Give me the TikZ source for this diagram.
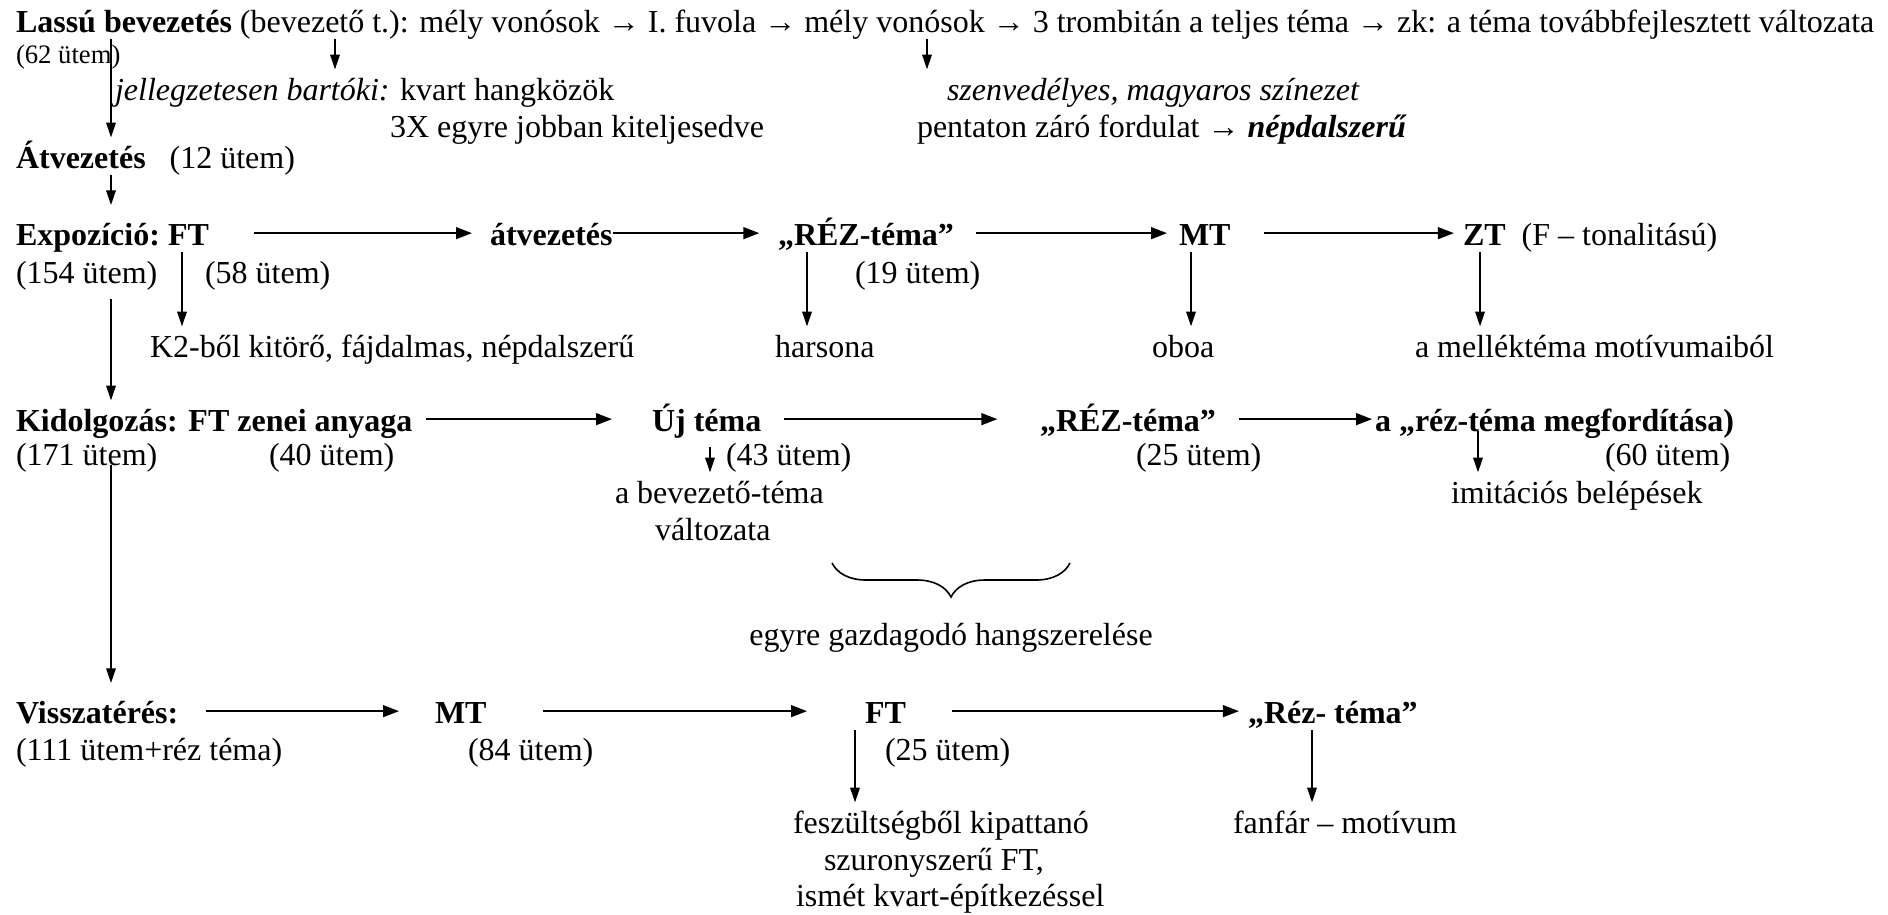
\documentclass[tikz,border=0pt]{standalone}
\usepackage{fontspec}
\setmainfont{Liberation Serif}
\usetikzlibrary{arrows.meta,decorations.pathreplacing}

\begin{document}
\begin{tikzpicture}[x=0.375pt,y=-0.375pt,
    txt/.style={anchor=base west,inner sep=0pt,outer sep=0pt,text height=11.5pt,text depth=2.6pt,font=\fontsize{12}{14}\selectfont},
    harr/.style={-{Triangle[length=6pt,width=4.4pt]},line width=0.8pt},
    varr/.style={-{Triangle[length=5.5pt,width=3.6pt]},line width=0.5pt}]
      \useasboundingbox (0,0) rectangle (1888,914);

      % columns of the down arrows
      \coordinate (spine) at (111,0);
      \coordinate (xbart) at (335,0);
      \coordinate (xszenv) at (927,0);
      \coordinate (xft) at (182,0);
      \coordinate (xrez) at (807,0);
      \coordinate (xmt) at (1191,0);
      \coordinate (xzt) at (1480,0);
      \coordinate (xuj) at (710,0);
      \coordinate (ximi) at (1478,0);
      \coordinate (xft2) at (855,0);
      \coordinate (xrez3) at (1312,0);

      % bevezetes
      \node[txt] (lead) at (16,32) {\textbf{Lassú bevezetés} (bevezető t.): mély vonósok → I. fuvola → mély vonósok → 3 trombitán a teljes téma → zk: a téma továbbfejlesztett változata};
      \node[txt,font=\fontsize{10}{12}\selectfont] (ut62) at (16,63) {(62 ütem)};
      \node[txt] (bartok) at (115,100) {\textit{jellegzetesen bartóki:} kvart hangközök};
      \node[txt] (szenv) at (947,100) {\textit{szenvedélyes, magyaros színezet}};
      \node[txt] (kvart3) at (390,137) {3X egyre jobban kiteljesedve};
      \node[txt] (penta) at (917,137) {pentaton záró fordulat → \textbf{\textit{népdalszerű}}};
      \node[txt] (atv) at (16,168) {\textbf{Átvezetés}\hspace{9pt}(12 ütem)};

      % expozicio
      \node[txt] (expo) at (16,245) {\textbf{Expozíció:}};
      \node[txt] (expoft) at (168,245) {\textbf{FT}};
      \node[txt] (atv2) at (490,245) {\textbf{átvezetés}};
      \node[txt] (rez1) at (778,245) {\textbf{„RÉZ-téma”}};
      \node[txt] (mt1) at (1179,245) {\textbf{MT}};
      \node[txt] (zt) at (1463,245) {\textbf{ZT}~~(F – tonalitású)};
      \node[txt] (ut154) at (16,283) {(154 ütem)};
      \node[txt] (ut58) at (205,283) {(58 ütem)};
      \node[txt] (ut19) at (855,283) {(19 ütem)};
      \node[txt] (k2) at (150,357) {K2-ből kitörő, fájdalmas, népdalszerű};
      \node[txt] (harsona) at (775,357) {harsona};
      \node[txt] (oboa) at (1152,357) {oboa};
      \node[txt] (mellek) at (1415,357) {a melléktéma motívumaiból};

      % kidolgozas
      \node[txt] (kid) at (16,431) {\textbf{Kidolgozás: FT zenei anyaga}};
      \node[txt] (uj) at (652,431) {\textbf{Új téma}};
      \node[txt] (rez2) at (1040,431) {\textbf{„RÉZ-téma”}};
      \node[txt] (megf) at (1375,431) {\textbf{a „réz-téma megfordítása)}};
      \node[txt] (ut171) at (16,465) {(171 ütem)};
      \node[txt] (ut40) at (269,465) {(40 ütem)};
      \node[txt] (ut43) at (726,465) {(43 ütem)};
      \node[txt] (ut25a) at (1136,465) {(25 ütem)};
      \node[txt] (ut60) at (1605,465) {(60 ütem)};
      \node[txt] (bev) at (615,503) {a bevezető-téma};
      \node[txt] (valt) at (655,540) {változata};
      \node[txt] (imi) at (1451,503) {imitációs belépések};
      \draw[line width=0.6pt,decorate,decoration={brace,amplitude=12.75pt}] (1070,563) -- (832,563);
      \node[txt,anchor=base] (gazd) at (951,645) {egyre gazdagodó hangszerelése};

      % visszateres
      \node[txt] (vissza) at (16,723) {\textbf{Visszatérés:}};
      \node[txt] (mt2) at (435,723) {\textbf{MT}};
      \node[txt] (ft2) at (865,723) {\textbf{FT}};
      \node[txt] (rez3) at (1248,723) {\textbf{„Réz- téma”}};
      \node[txt] (ut111) at (16,760) {(111 ütem+réz téma)};
      \node[txt] (ut84) at (468,760) {(84 ütem)};
      \node[txt] (ut25b) at (885,760) {(25 ütem)};
      \node[txt] (fesz) at (793,833) {feszültségből kipattanó};
      \node[txt] (szur) at (824,870) {szuronyszerű FT,};
      \node[txt] (ismet) at (796,906) {ismét kvart-építkezéssel};
      \node[txt] (fanfar) at (1233,833) {fanfár – motívum};

      % arrows
      \draw[varr] (lead.south -| spine) -- (atv.north -| spine);
      \draw[varr] (lead.south -| xbart) -- (bartok.north -| xbart);
      \draw[varr] (lead.south -| xszenv) -- (szenv.north -| xszenv);
      \draw[varr,shorten >=3.5pt] (atv.south -| spine) -- (expo.north -| spine);
      \draw[harr,shorten <=17pt,shorten >=6.75pt] (expoft) -- (atv2);
      \draw[harr,shorten >=7pt] (atv2) -- (rez1);
      \draw[harr,shorten <=8.25pt,shorten >=4.5pt] (rez1) -- (mt1);
      \draw[harr,shorten <=12.4pt,shorten >=3.4pt] (mt1) -- (zt);
      \draw[varr] (expoft.south -| xft) -- (k2.north -| xft);
      \draw[varr] (rez1.south -| xrez) -- (harsona.north -| xrez);
      \draw[varr] (mt1.south -| xmt) -- (oboa.north -| xmt);
      \draw[varr] (zt.south -| xzt) -- (mellek.north -| xzt);
      \draw[varr,shorten <=3.4pt] (ut154.south -| spine) -- (kid.north -| spine);
      \draw[harr,shorten <=4.9pt,shorten >=15pt] (kid) -- (uj);
      \draw[harr,shorten <=8.6pt,shorten >=16pt] (uj) -- (rez2);
      \draw[harr,shorten <=8.6pt,shorten >=1.1pt] (rez2) -- (megf);
      \draw[varr,shorten <=3.4pt] (uj.south -| xuj) -- (bev.north -| xuj);
      \draw[varr] (megf.base -| ximi) -- (imi.north -| ximi);
      \draw[varr,shorten >=3.5pt] (ut171.base -| spine) -- (vissza.north -| spine);
      \draw[harr,shorten <=10.5pt,shorten >=13.5pt] (vissza) -- (mt2);
      \draw[harr,shorten <=21pt,shorten >=21.75pt] (mt2) -- (ft2);
      \draw[harr,shorten <=17.25pt,shorten >=3.4pt] (ft2) -- (rez3);
      \draw[varr] (ft2.south -| xft2) -- (fesz.north -| xft2);
      \draw[varr] (rez3.south -| xrez3) -- (fanfar.north -| xrez3);
\end{tikzpicture}
\end{document}
